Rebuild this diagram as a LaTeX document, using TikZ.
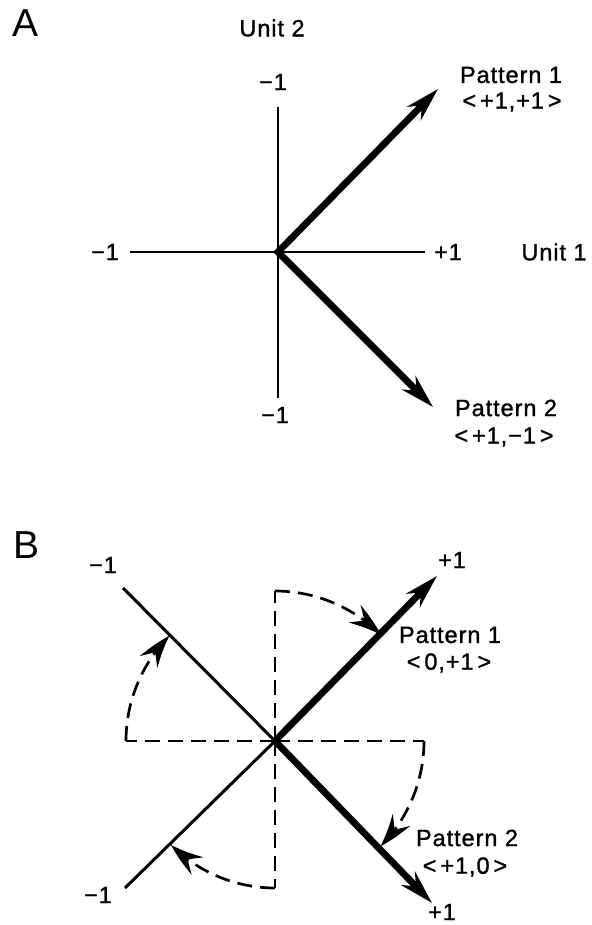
\documentclass[tikz,border=0pt]{standalone}
\usepackage{fontspec}
\setmainfont{Liberation Sans}[LetterSpace=4,FakeBold=1.2]
\newfontfamily\letterfont{Liberation Sans}
\usetikzlibrary{arrows.meta,bending}
\begin{document}
\begin{tikzpicture}[x=1bp,y=1bp,
  lbl/.style={font=\fontsize{23.5bp}{26bp}\selectfont, inner sep=0pt},
  big/.style={font=\letterfont\fontsize{39bp}{42bp}\selectfont, inner sep=0pt},
  axisline/.style={line width=2.8bp},
  thickvec/.style={line width=6.8bp, line join=miter,
    {Stealth[length=34bp,width=19bp,inset=11bp]}-{Stealth[length=34bp,width=19bp,inset=11bp]}},
  thinline/.style={line width=3bp},
  dashax/.style={line width=2.7bp, dash pattern=on 15bp off 8bp},
  rotarrow/.style={dashax, -{Stealth[length=34bp,width=21bp,inset=12bp,bend]}}]
\useasboundingbox (0,0) rectangle (592,925);
% ---------------- Panel A ----------------
\coordinate (OA) at (278,673);
\coordinate (AL) at (130,673);
\coordinate (AR) at (425,673);
\coordinate (AT) at (278,818);
\coordinate (AB) at (278,527);
\coordinate (P1) at (438,836);
\coordinate (P2) at (433,518);
\draw[axisline] (AL) -- (AR);
\draw[axisline] (AT) -- (AB);
\draw[thickvec] (P1) -- (OA) -- (P2);
\node[big] (labA) at (26,902) {A};
\node[lbl] (unit2) at (272,897) {Unit 2};
\node[lbl] (aTop) at (273,843) {−1};
\node[lbl] (aLeft) at (105,673) {−1};
\node[lbl] (aRight) at (448,673) {+1};
\node[lbl] (unit1) at (554,673) {Unit 1};
\node[lbl] (aBot) at (275,510) {−1};
\node[lbl] (pA1) at (511,850) {Pattern 1};
\node[lbl] (pA1v) at (512,823) {<\,+1,+1\,>};
\node[lbl] (pA2) at (506,517) {Pattern 2};
\node[lbl] (pA2v) at (504,488) {<\,+1,−1\,>};
% ---------------- Panel B ----------------
\coordinate (OB) at (275,184);
\coordinate (UL) at (123,337);
\coordinate (LL) at (125,37);
\coordinate (UR) at (437,349);
\coordinate (LR) at (432,22);
\coordinate (BT) at (275,334);
\coordinate (BL) at (126,184);
\coordinate (BR) at (424,184);
\coordinate (BB) at (275,37);
\draw[dashax] (OB) -- (BT);
\draw[dashax] (OB) -- (BL);
\draw[dashax] (OB) -- (BR);
\draw[dashax] (OB) -- (BB);
\draw[rotarrow] (BT) arc[start angle=90,end angle=45,radius=150];
\draw[rotarrow] (BL) arc[start angle=180,end angle=135,radius=149];
\draw[rotarrow] (BR) arc[start angle=0,end angle=-45,radius=149];
\draw[rotarrow] (BB) arc[start angle=270,end angle=225,radius=147];
\draw[thinline] (UL) -- (OB);
\draw[thinline] (LL) -- (OB);
\draw[thickvec] (UR) -- (OB) -- (LR);
\node[big] (labB) at (27,380) {B};
\node[lbl] (bUL) at (103,360) {−1};
\node[lbl] (bUR) at (452,365) {+1};
\node[lbl] (bLL) at (98,30) {−1};
\node[lbl] (bLR) at (442,13) {+1};
\node[lbl] (pB1) at (450,290) {Pattern 1};
\node[lbl] (pB1v) at (449,262) {<\,0,+1\,>};
\node[lbl] (pB2) at (467,87) {Pattern 2};
\node[lbl] (pB2v) at (465,58) {<\,+1,0\,>};
\end{tikzpicture}
\end{document}
